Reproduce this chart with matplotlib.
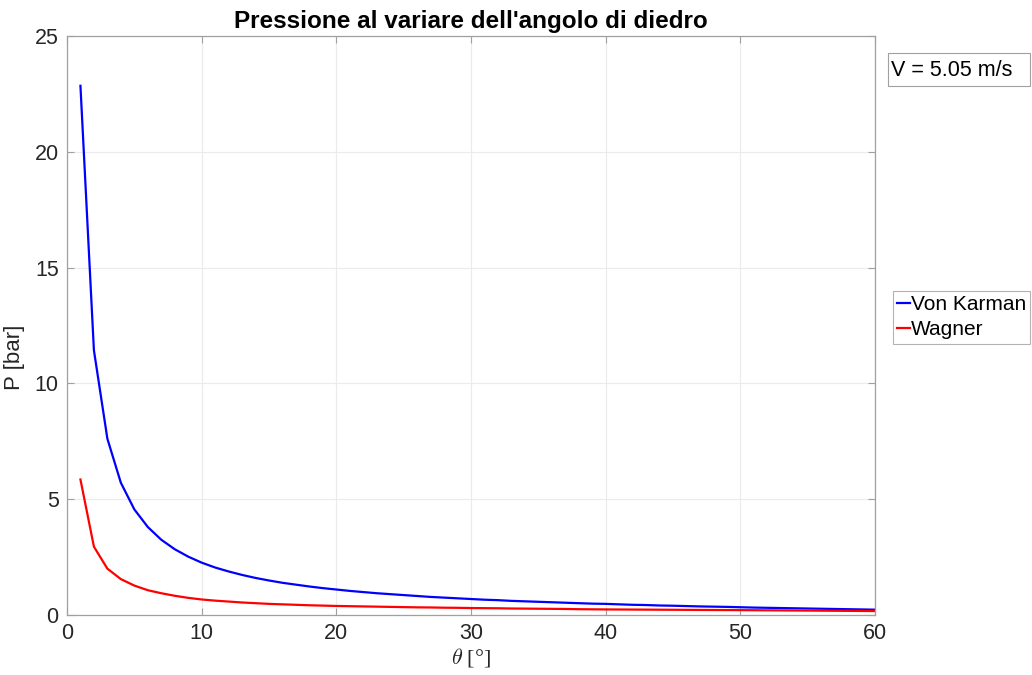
import matplotlib
matplotlib.use('Agg')
import matplotlib.pyplot as plt
from matplotlib.patches import Rectangle
import numpy as np

plt.rcParams['font.family'] = ['Liberation Sans', 'DejaVu Sans']
plt.rcParams['mathtext.fontset'] = 'cm'

# dihedral angle [deg]
theta = list(range(1, 61))

# pressure [bar]
p_karman = [22.85, 11.43, 7.61, 5.71, 4.56, 3.80, 3.25, 2.84, 2.52, 2.26,
            2.05, 1.88, 1.73, 1.60, 1.49, 1.39, 1.31, 1.23, 1.16, 1.10,
            1.04, 0.99, 0.94, 0.90, 0.86, 0.82, 0.78, 0.75, 0.72, 0.69,
            0.66, 0.64, 0.61, 0.59, 0.57, 0.55, 0.53, 0.51, 0.49, 0.48,
            0.46, 0.44, 0.43, 0.41, 0.40, 0.385, 0.37, 0.36, 0.35, 0.335,
            0.32, 0.31, 0.30, 0.29, 0.28, 0.27, 0.26, 0.25, 0.24, 0.23]
p_wagner = [5.85, 2.95, 2.00, 1.55, 1.27, 1.07, 0.94, 0.83, 0.74, 0.67,
            0.62, 0.58, 0.54, 0.51, 0.48, 0.46, 0.44, 0.42, 0.405, 0.39,
            0.38, 0.37, 0.36, 0.35, 0.34, 0.33, 0.325, 0.315, 0.31, 0.30,
            0.295, 0.29, 0.28, 0.275, 0.27, 0.265, 0.26, 0.25, 0.245, 0.24,
            0.237, 0.234, 0.231, 0.228, 0.225, 0.222, 0.219, 0.216, 0.213, 0.21,
            0.206, 0.202, 0.198, 0.194, 0.19, 0.186, 0.182, 0.178, 0.174, 0.17]
velocity = 5.05

fig = plt.figure(figsize=(10.32, 6.75), dpi=100)
ax = fig.add_axes([0.0649, 0.0889, 0.7830, 0.8578])

ax.plot(theta, p_karman, color='#0000ff', linewidth=1.6, label='Von Karman')
ax.plot(theta, p_wagner, color='#ff0000', linewidth=1.6, label='Wagner')

ax.set_xlim(0, 60)
ax.set_ylim(0, 25)
ax.set_xticks(np.arange(0, 61, 10))
ax.set_yticks(np.arange(0, 26, 5))
ax.grid(True, color='#ebebeb', linewidth=0.8)
ax.set_axisbelow(True)

for s in ax.spines.values():
    s.set_color('#a0a0a0')
    s.set_linewidth(0.9)
ax.tick_params(direction='in', top=True, right=True, length=5, color='#a0a0a0',
               labelsize=15.5, labelcolor='#262626', pad=6)

ax.set_title("Pressione al variare dell'angolo di diedro", fontsize=17.5,
             fontweight='bold', pad=6)
ax.set_ylabel('P [bar]', fontsize=16, color='#262626', labelpad=8,
              family=['Liberation Sans', 'DejaVu Sans'])
ax.yaxis.set_label_coords(-0.052, 0.445)
ax.set_xlabel(r'$\theta$ [°]', fontsize=16, color='#262626', labelpad=1,
              family=['Liberation Serif', 'DejaVu Serif'])

leg = ax.legend(loc='upper left', bbox_to_anchor=(893 / 1032, 1 - 291 / 675),
                bbox_transform=fig.transFigure, fontsize=15,
                frameon=True, fancybox=False, borderpad=0.2, handlelength=0.6,
                handletextpad=0.05, labelspacing=0.3, borderaxespad=0)
leg.get_frame().set_edgecolor('#a0a0a0')
leg.get_frame().set_linewidth(0.8)

# velocity annotation box
fig.patches.append(Rectangle((888 / 1032, 1 - 86 / 675), 142 / 1032, 33 / 675,
                             transform=fig.transFigure, facecolor='white',
                             edgecolor='#a0a0a0', linewidth=0.8))
fig.text(891 / 1032, 1 - 70 / 675, 'V = %.2f m/s' % velocity, fontsize=15.5,
         va='center', ha='left', color='black')

fig.savefig('out.png', dpi=100)
